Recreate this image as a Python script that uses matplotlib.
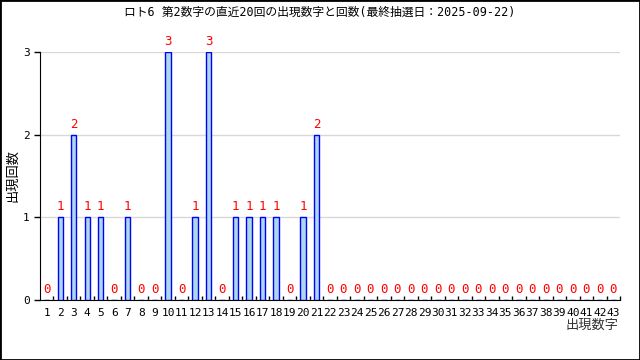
import matplotlib
matplotlib.use('Agg')
import matplotlib.pyplot as plt
import numpy as np

plt.rcParams['font.family'] = ['DejaVu Sans Mono', 'Noto Sans CJK JP']

title = 'ロト6 第2数字の直近20回の出現数字と回数(最終抽選日：2025-09-22)'
numbers = list(range(1, 44))
counts = [0, 1, 2, 1, 1, 0, 1, 0, 0, 3,
          0, 1, 3, 0, 1, 1, 1, 1, 0, 1,
          2, 0, 0, 0, 0, 0, 0, 0, 0, 0,
          0, 0, 0, 0, 0, 0, 0, 0, 0, 0,
          0, 0, 0]

fig = plt.figure(figsize=(6.4, 3.6), dpi=100)
ax = fig.add_axes([40/640, 1 - 300/360, 580/640, 248/360])

bars = ax.bar(numbers, counts, width=0.4, color='#add8e6', edgecolor='#0000ff', linewidth=1, zorder=3)
for n, c in zip(numbers, counts):
    ax.text(n, c + 0.05, str(c), ha='center', va='bottom', color='#ff0000', fontsize=9)

ax.set_xlim(0.5, 43.5)
ax.set_ylim(0, 3)
ax.set_yticks([0, 1, 2, 3])
ax.yaxis.grid(True, color='#d8d8d8', linewidth=1, zorder=0)
ax.tick_params(axis='y', labelsize=8, length=4, direction='out', width=1)

ax.set_xticks(numbers)
ax.set_xticklabels([str(n) for n in numbers], fontsize=8)
ax.tick_params(axis='x', which='major', length=0, pad=6)
ax.set_xticks(np.arange(1.5, 44, 1), minor=True)
ax.tick_params(axis='x', which='minor', length=3, direction='in', width=1)

for s in ['top', 'right']:
    ax.spines[s].set_visible(False)

ax.set_ylabel('出現回数', fontsize=9.5, family=['Noto Sans CJK JP'])
ax.yaxis.set_label_coords(-21/580, 0.5)
ax.text(0.997, -0.075, '出現数字', transform=ax.transAxes, ha='right', va='top',
        fontsize=9.5, family=['Noto Sans CJK JP'], color='#333333')

fig.text(0.5, 1 - 12/360, title, ha='center', va='center', fontsize=8.5)

# outer frame
fig.patches.append(plt.Rectangle((0, 0), 1, 1, transform=fig.transFigure,
                                 fill=False, edgecolor='black', linewidth=2))

fig.savefig('out.png', dpi=100)
